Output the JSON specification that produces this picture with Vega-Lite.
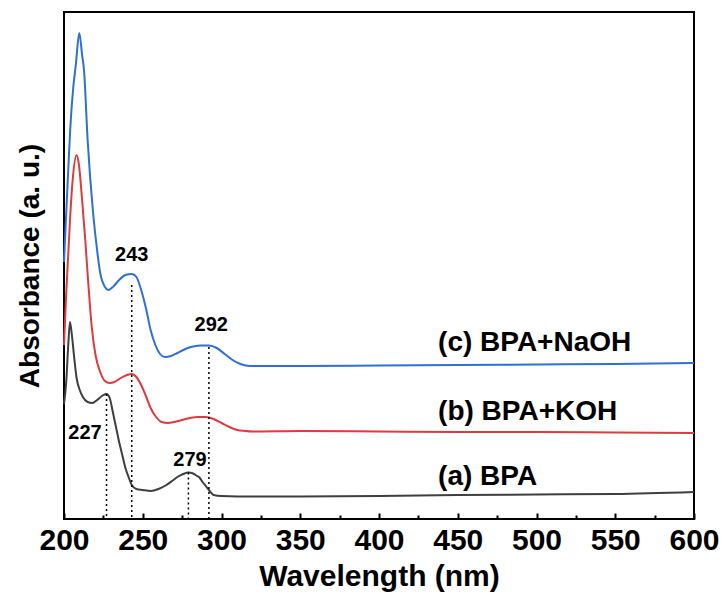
{
  "$schema": "https://vega.github.io/schema/vega-lite/v6.json",
  "width": 630,
  "height": 507,
  "autosize": {"type": "none"},
  "padding": {"left": 64, "top": 12, "right": 31, "bottom": 85},
  "background": "white",
  "config": {
    "view": {"stroke": "black", "strokeWidth": 2},
    "font": "Liberation Sans"
  },
  "datasets": {
    "spectra": [
      {"series": "a", "wl": 200, "abs": 1.15},
      {"series": "a", "wl": 201.5, "abs": 1.39},
      {"series": "a", "wl": 202.7, "abs": 1.74},
      {"series": "a", "wl": 203.8, "abs": 1.97},
      {"series": "a", "wl": 205, "abs": 1.84},
      {"series": "a", "wl": 206.5, "abs": 1.61},
      {"series": "a", "wl": 208, "abs": 1.41},
      {"series": "a", "wl": 210, "abs": 1.29},
      {"series": "a", "wl": 212, "abs": 1.22},
      {"series": "a", "wl": 215, "abs": 1.17},
      {"series": "a", "wl": 218, "abs": 1.16},
      {"series": "a", "wl": 221, "abs": 1.19},
      {"series": "a", "wl": 224, "abs": 1.23},
      {"series": "a", "wl": 227, "abs": 1.25},
      {"series": "a", "wl": 229, "abs": 1.21},
      {"series": "a", "wl": 231, "abs": 1.07},
      {"series": "a", "wl": 233, "abs": 0.92},
      {"series": "a", "wl": 235, "abs": 0.77},
      {"series": "a", "wl": 237, "abs": 0.64},
      {"series": "a", "wl": 239, "abs": 0.51},
      {"series": "a", "wl": 241, "abs": 0.42},
      {"series": "a", "wl": 243, "abs": 0.34},
      {"series": "a", "wl": 246, "abs": 0.30},
      {"series": "a", "wl": 250, "abs": 0.29},
      {"series": "a", "wl": 255, "abs": 0.28},
      {"series": "a", "wl": 260, "abs": 0.30},
      {"series": "a", "wl": 265, "abs": 0.34},
      {"series": "a", "wl": 269.4, "abs": 0.39},
      {"series": "a", "wl": 272, "abs": 0.42},
      {"series": "a", "wl": 275.7, "abs": 0.45},
      {"series": "a", "wl": 279, "abs": 0.465},
      {"series": "a", "wl": 282, "abs": 0.455},
      {"series": "a", "wl": 284, "abs": 0.435},
      {"series": "a", "wl": 286, "abs": 0.415},
      {"series": "a", "wl": 288, "abs": 0.37},
      {"series": "a", "wl": 290, "abs": 0.33},
      {"series": "a", "wl": 292, "abs": 0.29},
      {"series": "a", "wl": 295, "abs": 0.24},
      {"series": "a", "wl": 300, "abs": 0.23},
      {"series": "a", "wl": 320, "abs": 0.225},
      {"series": "a", "wl": 350, "abs": 0.225},
      {"series": "a", "wl": 400, "abs": 0.23},
      {"series": "a", "wl": 450, "abs": 0.24},
      {"series": "a", "wl": 500, "abs": 0.245},
      {"series": "a", "wl": 550, "abs": 0.25},
      {"series": "a", "wl": 600, "abs": 0.27},

      {"series": "b", "wl": 200, "abs": 1.74},
      {"series": "b", "wl": 201.3, "abs": 2.22},
      {"series": "b", "wl": 203.8, "abs": 2.99},
      {"series": "b", "wl": 205.5, "abs": 3.39},
      {"series": "b", "wl": 208, "abs": 3.64},
      {"series": "b", "wl": 209.5, "abs": 3.54},
      {"series": "b", "wl": 211.5, "abs": 3.19},
      {"series": "b", "wl": 213.5, "abs": 2.79},
      {"series": "b", "wl": 215.5, "abs": 2.34},
      {"series": "b", "wl": 217.5, "abs": 1.94},
      {"series": "b", "wl": 220, "abs": 1.64},
      {"series": "b", "wl": 223, "abs": 1.47},
      {"series": "b", "wl": 226, "abs": 1.38},
      {"series": "b", "wl": 229, "abs": 1.36},
      {"series": "b", "wl": 232, "abs": 1.37},
      {"series": "b", "wl": 236, "abs": 1.41},
      {"series": "b", "wl": 240, "abs": 1.44},
      {"series": "b", "wl": 243, "abs": 1.45},
      {"series": "b", "wl": 246, "abs": 1.42},
      {"series": "b", "wl": 249, "abs": 1.34},
      {"series": "b", "wl": 252, "abs": 1.23},
      {"series": "b", "wl": 255, "abs": 1.11},
      {"series": "b", "wl": 258, "abs": 1.03},
      {"series": "b", "wl": 262, "abs": 0.97},
      {"series": "b", "wl": 266, "abs": 0.96},
      {"series": "b", "wl": 270, "abs": 0.97},
      {"series": "b", "wl": 275, "abs": 0.99},
      {"series": "b", "wl": 280, "abs": 1.01},
      {"series": "b", "wl": 285, "abs": 1.02},
      {"series": "b", "wl": 290, "abs": 1.02},
      {"series": "b", "wl": 295, "abs": 1.00},
      {"series": "b", "wl": 300, "abs": 0.96},
      {"series": "b", "wl": 305, "abs": 0.92},
      {"series": "b", "wl": 310, "abs": 0.89},
      {"series": "b", "wl": 315, "abs": 0.88},
      {"series": "b", "wl": 320, "abs": 0.875},
      {"series": "b", "wl": 350, "abs": 0.88},
      {"series": "b", "wl": 400, "abs": 0.875},
      {"series": "b", "wl": 450, "abs": 0.87},
      {"series": "b", "wl": 500, "abs": 0.87},
      {"series": "b", "wl": 550, "abs": 0.865},
      {"series": "b", "wl": 600, "abs": 0.86},

      {"series": "c", "wl": 200, "abs": 2.57},
      {"series": "c", "wl": 201, "abs": 2.92},
      {"series": "c", "wl": 202.7, "abs": 3.49},
      {"series": "c", "wl": 204, "abs": 3.91},
      {"series": "c", "wl": 205.9, "abs": 4.32},
      {"series": "c", "wl": 207.5, "abs": 4.54},
      {"series": "c", "wl": 209.7, "abs": 4.86},
      {"series": "c", "wl": 211.5, "abs": 4.64},
      {"series": "c", "wl": 212.7, "abs": 4.49},
      {"series": "c", "wl": 215, "abs": 3.79},
      {"series": "c", "wl": 218.6, "abs": 3.04},
      {"series": "c", "wl": 221, "abs": 2.69},
      {"series": "c", "wl": 223, "abs": 2.46},
      {"series": "c", "wl": 226, "abs": 2.32},
      {"series": "c", "wl": 228, "abs": 2.29},
      {"series": "c", "wl": 231, "abs": 2.32},
      {"series": "c", "wl": 235, "abs": 2.39},
      {"series": "c", "wl": 239, "abs": 2.44},
      {"series": "c", "wl": 243, "abs": 2.45},
      {"series": "c", "wl": 246, "abs": 2.42},
      {"series": "c", "wl": 249, "abs": 2.29},
      {"series": "c", "wl": 252, "abs": 2.11},
      {"series": "c", "wl": 255, "abs": 1.89},
      {"series": "c", "wl": 258, "abs": 1.74},
      {"series": "c", "wl": 261, "abs": 1.65},
      {"series": "c", "wl": 264, "abs": 1.62},
      {"series": "c", "wl": 268, "abs": 1.63},
      {"series": "c", "wl": 272, "abs": 1.66},
      {"series": "c", "wl": 277, "abs": 1.70},
      {"series": "c", "wl": 282, "abs": 1.725},
      {"series": "c", "wl": 287, "abs": 1.735},
      {"series": "c", "wl": 292, "abs": 1.735},
      {"series": "c", "wl": 297, "abs": 1.71},
      {"series": "c", "wl": 302, "abs": 1.65},
      {"series": "c", "wl": 307, "abs": 1.59},
      {"series": "c", "wl": 312, "abs": 1.55},
      {"series": "c", "wl": 318, "abs": 1.53},
      {"series": "c", "wl": 330, "abs": 1.53},
      {"series": "c", "wl": 350, "abs": 1.53},
      {"series": "c", "wl": 400, "abs": 1.535},
      {"series": "c", "wl": 450, "abs": 1.54},
      {"series": "c", "wl": 500, "abs": 1.545},
      {"series": "c", "wl": 550, "abs": 1.55},
      {"series": "c", "wl": 600, "abs": 1.56}
    ],
    "markers": [
      {"wl": 227, "top": 1.25},
      {"wl": 243, "top": 2.34},
      {"wl": 279, "top": 0.465},
      {"wl": 292, "top": 1.72}
    ],
    "peaklabels": [
      {"wl": 243, "abs": 2.64, "label": "243"},
      {"wl": 293.5, "abs": 1.94, "label": "292"},
      {"wl": 213.3, "abs": 0.86, "label": "227"},
      {"wl": 280, "abs": 0.59, "label": "279"}
    ],
    "serieslabels": [
      {"wl": 437.5, "abs": 1.76, "label": "(c) BPA+NaOH"},
      {"wl": 437.5, "abs": 1.07, "label": "(b) BPA+KOH"},
      {"wl": 437.5, "abs": 0.42, "label": "(a) BPA"}
    ]
  },
  "resolve": {"axis": {"x": "independent", "y": "independent"}},
  "layer": [
    {
      "data": {"name": "spectra"},
      "mark": {"type": "line", "strokeWidth": 2, "interpolate": "monotone"},
      "encoding": {
        "x": {
          "field": "wl", "type": "quantitative",
          "scale": {"domain": [200, 600], "nice": false, "zero": false},
          "axis": {
            "orient": "bottom",
            "values": [200, 250, 300, 350, 400, 450, 500, 550, 600],
            "title": "Wavelength (nm)",
            "titleFont": "Liberation Sans", "titleFontSize": 30, "titleFontWeight": "bold", "titleColor": "black",
            "titlePadding": 6,
            "labelFont": "Liberation Sans", "labelFontSize": 30, "labelFontWeight": "bold", "labelColor": "black",
            "labelPadding": 12,
            "tickSize": -6, "tickWidth": 2, "tickColor": "black",
            "domain": false, "grid": false, "labelFlush": false
          }
        },
        "y": {
          "field": "abs", "type": "quantitative",
          "scale": {"domain": [0, 5.07], "nice": false, "zero": false},
          "axis": {
            "title": "Absorbance (a. u.)",
            "titleFont": "Liberation Sans", "titleFontSize": 28, "titleFontWeight": "bold", "titleColor": "black",
            "titlePadding": 20,
            "labels": false, "ticks": false, "domain": false, "grid": false
          }
        },
        "color": {
          "field": "series", "type": "nominal",
          "scale": {"domain": ["a", "b", "c"], "range": ["#3f3f3f", "#e0393e", "#2e6fd8"]},
          "legend": null
        }
      }
    },
    {
      "data": {"name": "markers"},
      "mark": {"type": "rule", "color": "black", "strokeWidth": 1.5, "strokeDash": [2, 3]},
      "encoding": {
        "x": {"field": "wl", "type": "quantitative", "axis": {
          "orient": "bottom",
          "values": [225, 275, 325, 375, 425, 475, 525, 575],
          "labels": false, "title": null, "domain": false, "grid": false,
          "tickSize": -4, "tickWidth": 2, "tickColor": "black"
        }},
        "y": {"field": "top", "type": "quantitative", "axis": null},
        "y2": {"datum": 0}
      }
    },
    {
      "data": {"name": "peaklabels"},
      "mark": {"type": "text", "font": "Liberation Sans", "fontSize": 20, "fontWeight": "bold", "color": "black", "baseline": "middle", "align": "center"},
      "encoding": {
        "x": {"field": "wl", "type": "quantitative", "axis": null},
        "y": {"field": "abs", "type": "quantitative", "axis": null},
        "text": {"field": "label"}
      }
    },
    {
      "data": {"name": "serieslabels"},
      "mark": {"type": "text", "font": "Liberation Sans", "fontSize": 28, "fontWeight": "bold", "color": "black", "baseline": "middle", "align": "left"},
      "encoding": {
        "x": {"field": "wl", "type": "quantitative", "axis": null},
        "y": {"field": "abs", "type": "quantitative", "axis": null},
        "text": {"field": "label"}
      }
    }
  ]
}
